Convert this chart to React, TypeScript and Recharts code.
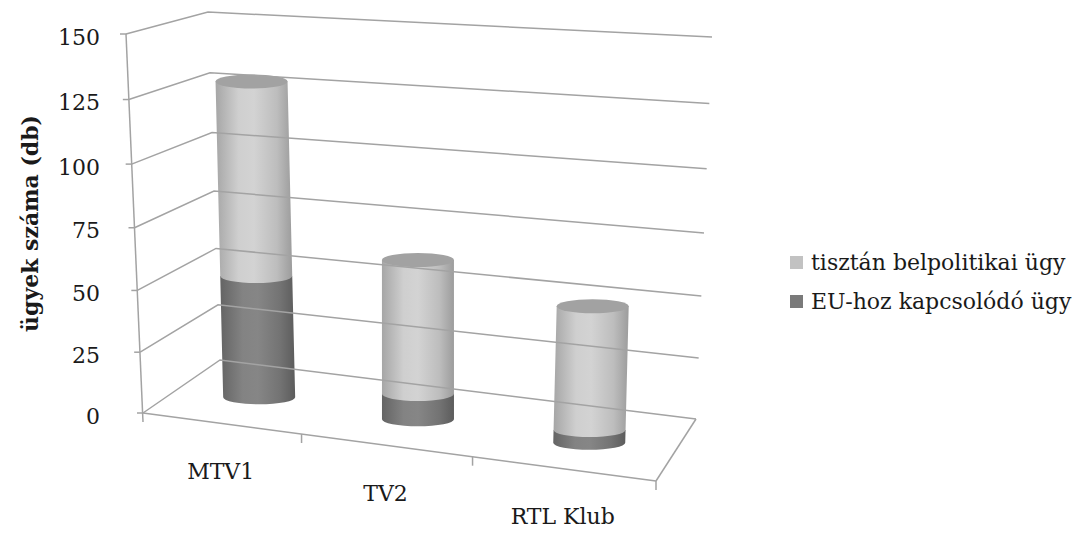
import { BarChart, Bar, XAxis, YAxis, Legend } from 'recharts'

// ügyek száma csatornánként
const categories = ['MTV1', 'TV2', 'RTL Klub']
const euValues = [48, 10, 5]
const domesticValues = [77, 53, 49]
const yTicks = [0, 25, 50, 75, 100, 125, 150]
const seriesNames = { eu: 'EU-hoz kapcsolódó ügy', domestic: 'tisztán belpolitikai ügy' }

const data = categories.map((name, i) => ({ name, eu: euValues[i], domestic: domesticValues[i] }))

const W = 1081
const H = 533
const PLOT_LEFT = 143
const PLOT_RIGHT = 656
const PLOT_TOP = 34
const PLOT_BOTTOM = 413
const Y_AXIS_W = 100
const X_AXIS_H = 40
const Y_MAX = 150

const FONT = '"DejaVu Serif", serif'
const TEXT = '#1a1a1a'
const GRID = '#a3a3a3'

// fake 3d box: the floor tilts down to the right, the wall shrinks to the left
const FLOOR_DROP = 68
const DEPTH_DY = 26
const span = PLOT_RIGHT - PLOT_LEFT
const persp = (x: number) => {
    const g = (x - PLOT_LEFT) / span
    return x - 56 * g * (1 - g)
}
const depthDx = (x: number) => 32 - 18 * ((x - PLOT_LEFT) / span - 0.5)
const frontY = (x: number) => PLOT_BOTTOM + FLOOR_DROP * (x - PLOT_LEFT) / span
const frontLeft = (f: number, y: number) => [PLOT_LEFT - 17 * f, y + 17 * f * (1 - f)]
const backLeft = (f: number) => [220 - 12 * f, 360 - 328 * f - 20 * f * f]
const backRight = (f: number) => [696 + 16 * f, 419 - 362 * f - 20 * f * f]

const TONES: Record<string, { stops: [number, string][]; cap: string; legend: string }> = {
    light: {
        stops: [[0, '#a6a6a6'], [0.3, '#cfcfcf'], [0.5, '#d3d3d3'], [0.8, '#bdbdbd'], [1, '#9c9c9c']],
        cap: '#a2a2a2',
        legend: '#c2c2c2',
    },
    dark: {
        stops: [[0, '#646464'], [0.3, '#838383'], [0.5, '#868686'], [0.8, '#737373'], [1, '#5c5c5c']],
        cap: '#6e6e6e',
        legend: '#7a7a7a',
    },
}

function Frame({ y }: { y: number }) {
    const [brx, bry] = backRight(0)
    const rightY = frontY(PLOT_RIGHT)
    const ticks = [1 / 3, 2 / 3, 1].map(u => persp(PLOT_LEFT + u * span))
    return (
        <g stroke={GRID} strokeWidth={1.5} fill="none">
            <line x1={PLOT_LEFT - 17} y1={PLOT_TOP} x2={PLOT_LEFT} y2={y + 9} />
            <line x1={PLOT_LEFT} y1={y} x2={PLOT_RIGHT} y2={rightY} />
            <line x1={PLOT_RIGHT} y1={rightY} x2={brx} y2={bry} />
            {ticks.map((tx, i) => (
                <line key={i} x1={tx} y1={frontY(tx)} x2={tx} y2={frontY(tx) + 9} />
            ))}
        </g>
    )
}

function YTick(props: any) {
    const { y, payload } = props
    const f = payload.value / Y_MAX
    const [fx, fy] = frontLeft(f, y)
    const [bx, by] = backLeft(f)
    const [rx, ry] = backRight(f)
    return (
        <g>
            <polyline points={`${fx},${fy} ${bx},${by} ${rx},${ry}`} fill="none" stroke={GRID} strokeWidth={1.5} />
            <line x1={fx - 6} y1={fy} x2={fx} y2={fy} stroke={GRID} strokeWidth={1.5} />
            {payload.value === 0 && <Frame y={y} />}
            <text x={100} y={fy + 3} textAnchor="end" dominantBaseline="central"
                style={{ fontFamily: FONT, fontSize: 22, fill: TEXT }}>
                {payload.value}
            </text>
        </g>
    )
}

function XTick(props: any) {
    const { x, payload } = props
    const px = persp(x)
    return (
        <text x={px} y={frontY(px) + 48} textAnchor="middle" dominantBaseline="central"
            style={{ fontFamily: FONT, fontSize: 22, fill: TEXT }}>
            {payload.value}
        </text>
    )
}

function Cylinder(props: any) {
    const { x, y, width, height, index, tone, cap } = props
    if (!height || height <= 0) return null
    const t = TONES[tone]
    const mid = x + width / 2
    const cxFront = persp(mid)
    const baseY = frontY(cxFront) - DEPTH_DY
    const shift = baseY - PLOT_BOTTOM
    const cx = cxFront + depthDx(mid)
    const rx = width / 2
    const ry = 7
    const yTop = y + shift
    const yBot = y + height + shift
    const lean = (cx - 420) * 0.00015
    const xt = cx + lean * (baseY - yTop)
    const xb = cx + lean * (baseY - yBot)
    const id = `cyl-${tone}-${index}`
    const d = `M ${xb - rx} ${yBot} L ${xt - rx} ${yTop} L ${xt + rx} ${yTop} L ${xb + rx} ${yBot} A ${rx} ${ry} 0 0 1 ${xb - rx} ${yBot} Z`
    return (
        <g>
            <defs>
                <linearGradient id={id} x1="0" y1="0" x2="1" y2="0">
                    {t.stops.map(([o, c]) => <stop key={o} offset={o} stopColor={c} />)}
                </linearGradient>
            </defs>
            <path d={d} fill={`url(#${id})`} />
            {cap && <ellipse cx={xt} cy={yTop} rx={rx} ry={ry} fill={t.cap} />}
        </g>
    )
}

function LegendBox(props: any) {
    const items = [...(props.payload || [])].reverse()
    return (
        <div style={{ fontFamily: FONT, fontSize: 22, color: TEXT }}>
            {items.map((it: any) => (
                <div key={it.value} style={{ display: 'flex', alignItems: 'center', height: 39 }}>
                    <span style={{ width: 13, height: 13, background: it.color, marginRight: 8, display: 'inline-block' }} />
                    <span>{it.value}</span>
                </div>
            ))}
        </div>
    )
}

function AxisTitle(props: any) {
    const vb = props.viewBox || {}
    const cx = 30
    const cy = vb.height ? vb.y + vb.height / 2 : (PLOT_TOP + PLOT_BOTTOM) / 2
    return (
        <text x={cx} y={cy} transform={`rotate(-90 ${cx} ${cy})`} textAnchor="middle" dominantBaseline="central"
            style={{ fontFamily: FONT, fontSize: 22, fontWeight: 'bold', fill: TEXT }}>
            ügyek száma (db)
        </text>
    )
}

export default function App() {
    return (
        <div style={{ position: 'absolute', left: 0, top: 0, width: W, height: H, background: '#fff' }}>
            <BarChart
                width={W}
                height={H}
                data={data}
                margin={{ top: PLOT_TOP, left: PLOT_LEFT - Y_AXIS_W, right: W - PLOT_RIGHT, bottom: H - PLOT_BOTTOM - X_AXIS_H }}
                barSize={72}
            >
                <XAxis dataKey="name" height={X_AXIS_H} axisLine={false} tickLine={false} tick={<XTick />} interval={0} />
                <YAxis
                    type="number"
                    domain={[0, Y_MAX]}
                    ticks={yTicks}
                    width={Y_AXIS_W}
                    axisLine={false}
                    tickLine={false}
                    tick={<YTick />}
                    interval={0}
                    label={(p: any) => <AxisTitle {...p} />}
                />
                <Legend
                    layout="vertical"
                    align="center"
                    verticalAlign="middle"
                    wrapperStyle={{ left: 790, top: 243, width: 290 }}
                    content={<LegendBox />}
                />
                <Bar dataKey="eu" name={seriesNames.eu} stackId="a" fill={TONES.dark.legend} isAnimationActive={false}
                    shape={(p: any) => <Cylinder {...p} tone="dark" cap={false} />} />
                <Bar dataKey="domestic" name={seriesNames.domestic} stackId="a" fill={TONES.light.legend} isAnimationActive={false}
                    shape={(p: any) => <Cylinder {...p} tone="light" cap />} />
            </BarChart>
        </div>
    )
}
